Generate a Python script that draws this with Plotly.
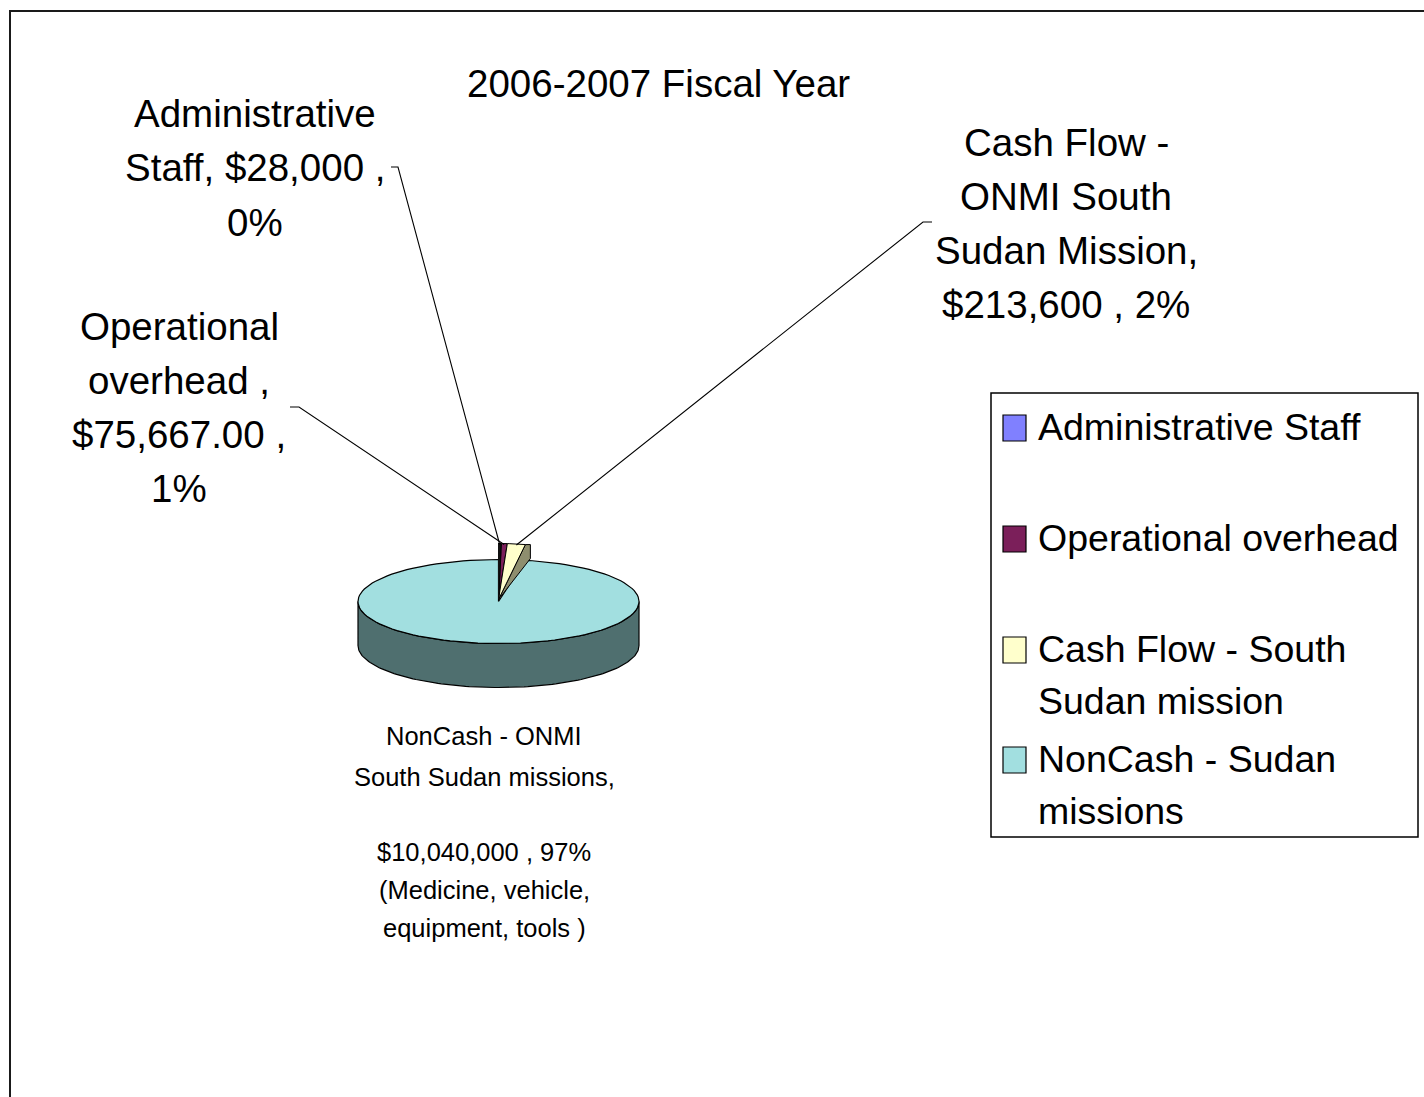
import math
import plotly.graph_objects as go

# ---------------- data ----------------
categories = ["Administrative Staff", "Operational overhead",
              "Cash Flow - South Sudan mission", "NonCash - Sudan missions"]
values = [28000, 75667.00, 213600, 10040000]
colors = ["#8080FF", "#7B1F5A", "#FFFFCC", "#A2DFE0"]
side_color = "#4F6F6F"
face_color = "#8E8E6E"

title_text = "2006-2007 Fiscal Year"

label_lines = [
    ["Administrative", "Staff, $28,000 ,", "0%"],
    ["Operational", "overhead ,", "$75,667.00 ,", "1%"],
    ["Cash Flow -", "ONMI South", "Sudan Mission,", "$213,600 , 2%"],
    ["NonCash - ONMI", "South Sudan missions,", "", "$10,040,000 , 97%",
     "(Medicine, vehicle,", "equipment, tools )"],
]
legend_lines = [
    ["Administrative Staff"],
    ["Operational overhead"],
    ["Cash Flow - South", "Sudan mission"],
    ["NonCash - Sudan", "missions"],
]

# ---------------- layout params (pixels) ----------------
W, H = 1424, 1097
cx, cy = 498.5, 601.5
rx, ry = 140.5, 42.0
depth = 44.0
ry_small = 58.0          # raised small slices
FONT = "Liberation Sans, Arial, sans-serif"
BIG = 38.5
SMALL = 25.5

total = sum(values)
fracs = [v / total for v in values]
angles = [f * 360 for f in fracs]
starts = []
acc = 0.0
for a in angles:
    starts.append(acc)
    acc += a


def pt(theta, rr, dy=0.0):
    t = math.radians(theta)
    return cx + rx * math.sin(t), cy - rr * math.cos(t) + dy


def arc(a0, a1, rr, dy=0.0, n=120):
    xs, ys = [], []
    for i in range(n + 1):
        th = a0 + (a1 - a0) * i / n
        x, y = pt(th, rr, dy)
        xs.append(x)
        ys.append(y)
    return xs, ys


fig = go.Figure()


def poly(xs, ys, color, lw=1.2):
    fig.add_trace(go.Scatter(x=xs, y=ys, mode="lines", fill="toself",
                             fillcolor=color, line=dict(color="black", width=lw),
                             hoverinfo="skip", showlegend=False))


# side wall (front half of the big slice)
tx, ty = arc(90, 270, ry)
bx, by = arc(270, 90, ry, depth)
poly(tx + bx + [tx[0]], ty + by + [ty[0]], side_color)

# top face of the big slice
big = 3
ax, ay = arc(starts[big], starts[big] + angles[big], ry)
poly([cx] + ax + [cx], [cy] + ay + [cy], colors[big])

# side face of the raised small slices
end_small = starts[big]
ex, ey = pt(end_small, ry_small)
poly([cx, ex, ex + 5, ex + 5, cx], [cy - 2, ey, ey, ey + 14, cy - 2], face_color, 1)

# small slices (raised)
for i in range(3):
    sx, sy = arc(starts[i], starts[i] + angles[i], ry_small, n=10)
    poly([cx] + sx + [cx], [cy - 2] + sy + [cy - 2], colors[i], 1)

# dark inner wall of the cut
poly([cx - 0.5, cx + 2.5, cx + 0.5, cx - 0.5], [cy - ry_small, cy - ry_small, cy - 2, cy - 2],
     "#111111", 0.8)

shapes = []
annotations = []

# outer frame
shapes.append(dict(type="rect", xref="x", yref="y", x0=10, y0=11, x1=W + 20, y1=H + 20,
                   line=dict(color="#1a1a1a", width=2), fillcolor="rgba(0,0,0,0)"))

# title
annotations.append(dict(x=658, y=83, xref="x", yref="y", text=title_text, showarrow=False,
                        font=dict(family=FONT, size=BIG, color="black"),
                        xanchor="center", yanchor="middle"))

# data labels: (center x, first line y, line spacing, font size)
label_pos = [(255, 113, 54.5, BIG), (179, 326, 54.3, BIG), (1066, 142, 54.0, BIG),
             (484, 736, 38.2, SMALL)]
for lines, (lx, ly, sp, fs) in zip(label_lines, label_pos):
    for j, line in enumerate(lines):
        y = ly + j * sp
        if len(lines) == 6 and j >= 1:
            y = ly + 41 + (j - 1) * 37.7
        if line:
            annotations.append(dict(x=lx, y=y, xref="x", yref="y", text=line, showarrow=False,
                                    font=dict(family=FONT, size=fs, color="black"),
                                    xanchor="center", yanchor="middle"))

# leader lines
leaders = [
    ((391, 167), (398, 167)),
    ((290, 407), (299, 407)),
    ((932, 222), (923, 222)),
]
for i, ((x0, y0), (x1, y1)) in enumerate(leaders):
    mid = starts[i] + angles[i] / 2
    px, py = pt(mid, ry_small)
    shapes.append(dict(type="path", xref="x", yref="y",
                       path=f"M {x0},{y0} L {x1},{y1} L {px:.1f},{py + 1:.1f}",
                       line=dict(color="black", width=1.1)))

# legend
shapes.append(dict(type="rect", xref="x", yref="y", x0=991, y0=393, x1=1418, y1=837,
                   line=dict(color="black", width=1.5), fillcolor="white", layer="below"))
leg_y = [427, 538, 649, 759]
for i, lines in enumerate(legend_lines):
    y0 = leg_y[i]
    shapes.append(dict(type="rect", xref="x", yref="y", x0=1003, x1=1026, y0=y0 - 12, y1=y0 + 14,
                       line=dict(color="black", width=1.2), fillcolor=colors[i]))
    for j, line in enumerate(lines):
        annotations.append(dict(x=1036, y=y0 + j * 51.5, xref="x", yref="y", text=line,
                                showarrow=False, font=dict(family=FONT, size=37.5, color="black"),
                                xanchor="left", yanchor="middle"))

fig.update_layout(
    width=W, height=H, margin=dict(l=0, r=0, t=0, b=0),
    paper_bgcolor="white", plot_bgcolor="white",
    xaxis=dict(range=[0, W], visible=False, fixedrange=True),
    yaxis=dict(range=[H, 0], visible=False, fixedrange=True),
    shapes=shapes, annotations=annotations, showlegend=False,
)

fig.write_html("out.html")
